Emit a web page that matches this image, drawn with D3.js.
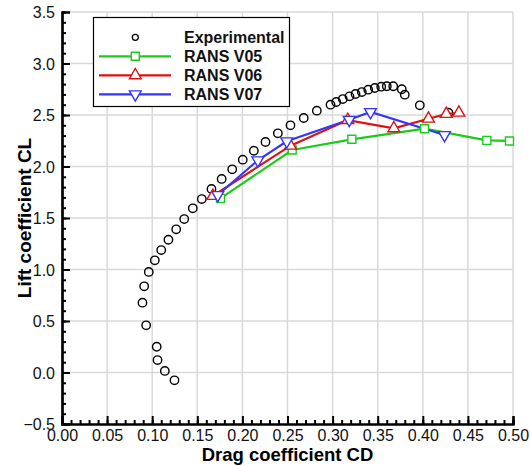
<!DOCTYPE html>
<html><head><meta charset="utf-8">
<script src="https://cdn.jsdelivr.net/npm/d3@7"></script>
<style>
body{margin:0;background:#fff;}
svg text{font-family:"Liberation Sans",Arial,Helvetica,sans-serif;}
</style></head>
<body><svg id="c" width="530" height="466"></svg>
<script>
const expCD = [0.1247,0.114,0.1059,0.105,0.0933,0.0892,0.0911,0.0962,0.1029,0.110,0.118,0.1266,0.1355,0.145,0.155,0.1657,0.177,0.1887,0.2004,0.2127,0.2256,0.2393,0.2533,0.268,0.2825,0.2977,0.304,0.3113,0.3187,0.3254,0.3324,0.3395,0.3468,0.3539,0.3601,0.3672,0.3767,0.380,0.3967,0.4285];
const expCL = [-0.076,0.015,0.121,0.250,0.458,0.678,0.837,0.976,1.089,1.189,1.289,1.390,1.490,1.594,1.684,1.782,1.879,1.973,2.066,2.153,2.238,2.322,2.400,2.471,2.542,2.600,2.626,2.655,2.681,2.704,2.723,2.746,2.762,2.775,2.779,2.779,2.750,2.697,2.594,2.522];
const v05CD = [0.1757,0.2552,0.3213,0.4019,0.471,0.4961];
const v05CL = [1.691,2.160,2.264,2.367,2.254,2.248];
const v06CD = [0.1672,0.2533,0.3169,0.3679,0.4063,0.426,0.44];
const v06CL = [1.714,2.202,2.451,2.371,2.464,2.51,2.522];
const v07CD = [0.1727,0.2171,0.2492,0.3184,0.342,0.4241];
const v07CL = [1.723,2.06,2.245,2.454,2.529,2.306];
const xTicks = [0,0.05,0.1,0.15,0.2,0.25,0.3,0.35,0.4,0.45,0.5];
const yTicks = [-0.5,0,0.5,1,1.5,2,2.5,3,3.5];
const seriesNames = ["Experimental","RANS V05","RANS V06","RANS V07"];

const svg = d3.select("#c");
const L=62, R=513, T=12, B=424;
const x = d3.scaleLinear().domain([0,0.5]).range([L,R]);
const y = d3.scaleLinear().domain([-0.5,3.5]).range([B,T]);

// grid
const g = svg.append("g");
g.selectAll("line.gx").data(xTicks.slice(1)).enter().append("line")
 .attr("x1",d=>x(d)).attr("x2",d=>x(d)).attr("y1",T).attr("y2",B)
 .attr("stroke","#d9d9d9").attr("stroke-width",1.5);
g.selectAll("line.gy").data(yTicks.slice(1)).enter().append("line")
 .attr("x1",L).attr("x2",R).attr("y1",d=>y(d)).attr("y2",d=>y(d))
 .attr("stroke","#d9d9d9").attr("stroke-width",1.5);

// axes
const xMinor = d3.range(0,0.5001,0.01);
const yMinor = d3.range(-0.5,3.5001,0.1);
const xa = svg.append("g").attr("transform",`translate(0,${B})`)
 .call(d3.axisBottom(x).tickValues(xMinor).tickSize(-4).tickFormat(""));
const xa2 = svg.append("g").attr("transform",`translate(0,${B})`)
 .call(d3.axisBottom(x).tickValues(xTicks).tickSize(-8).tickPadding(9.5).tickFormat(d3.format(".2f")));
const ya = svg.append("g").attr("transform",`translate(${L},0)`)
 .call(d3.axisLeft(y).tickValues(yMinor).tickSize(-4).tickFormat(""));
const ya2 = svg.append("g").attr("transform",`translate(${L},0)`)
 .call(d3.axisLeft(y).tickValues(yTicks).tickSize(-8).tickPadding(7).tickFormat(d3.format(".1f")));
[xa,xa2,ya,ya2].forEach(a=>{
  a.select(".domain").attr("stroke","#000").attr("stroke-width",2.2);
  a.selectAll(".tick line").attr("stroke","#000").attr("stroke-width",2);
  a.selectAll("text").attr("font-size",16).attr("fill","#111").style("font-family","'Liberation Sans',Arial,sans-serif");
});
xa2.selectAll(".tick text").attr("dy","0.45em");
ya2.selectAll(".tick text").attr("dy","0.35em");

// titles
svg.append("text").attr("x",(L+R)/2).attr("y",461).attr("text-anchor","middle")
 .attr("font-size",18.5).attr("font-weight","bold").text("Drag coefficient CD");
svg.append("text").attr("transform",`translate(31,${(T+B)/2}) rotate(-90)`).attr("text-anchor","middle")
 .attr("font-size",19).attr("font-weight","bold").text("Lift coefficient CL");

// series
const line = d3.line().x(d=>x(d[0])).y(d=>y(d[1]));
const expData = expCD.map((d,i)=>[d,expCL[i]]);
svg.append("g").selectAll("circle").data(expData).enter().append("circle")
 .attr("cx",d=>x(d[0])).attr("cy",d=>y(d[1])).attr("r",4.2)
 .attr("fill","none").attr("stroke","#000").attr("stroke-width",1.4);

const sq = d3.symbol().type(d3.symbolSquare).size(64);
const tri = d3.symbol().type(d3.symbolTriangle).size(60);
const series = [
 {cd:v05CD, cl:v05CL, color:"#19cc19", sym:sq, rot:0},
 {cd:v06CD, cl:v06CL, color:"#dd1111", sym:tri, rot:0},
 {cd:v07CD, cl:v07CL, color:"#3535ff", sym:tri, rot:180}
];
series.forEach(s=>{
  const data = s.cd.map((d,i)=>[d,s.cl[i]]);
  svg.append("path").datum(data).attr("d",line).attr("fill","none")
    .attr("stroke",s.color).attr("stroke-width",2.2);
});
series.forEach(s=>{
  const data = s.cd.map((d,i)=>[d,s.cl[i]]);
  svg.append("g").selectAll("path").data(data).enter().append("path")
    .attr("d",s.sym).attr("transform",d=>`translate(${x(d[0])},${y(d[1])}) rotate(${s.rot})`)
    .attr("fill","#fff").attr("stroke",s.color).attr("stroke-width",1.4);
});

// legend
const lg = svg.append("g");
lg.append("rect").attr("x",93.5).attr("y",17.5).attr("width",196).attr("height",89)
 .attr("fill","#fff").attr("stroke","#000").attr("stroke-width",1.2);
const rowsY = [37.3,56.3,75.3,94.3];
lg.append("circle").attr("cx",135.3).attr("cy",rowsY[0]).attr("r",3)
 .attr("fill","none").attr("stroke","#000").attr("stroke-width",1.3);
series.forEach((s,i)=>{
  const yy = rowsY[i+1];
  lg.append("line").attr("x1",99).attr("x2",171).attr("y1",yy).attr("y2",yy)
    .attr("stroke",s.color).attr("stroke-width",2.2);
  lg.append("path").attr("d",s.sym).attr("transform",`translate(135.3,${yy}) rotate(${s.rot})`)
    .attr("fill","#fff").attr("stroke",s.color).attr("stroke-width",1.4);
});
seriesNames.forEach((n,i)=>{
  lg.append("text").attr("x",184).attr("y",rowsY[i]).attr("dy","0.36em")
    .attr("font-size",16).attr("font-weight","bold").attr("fill","#111").text(n);
});
</script></body></html>
